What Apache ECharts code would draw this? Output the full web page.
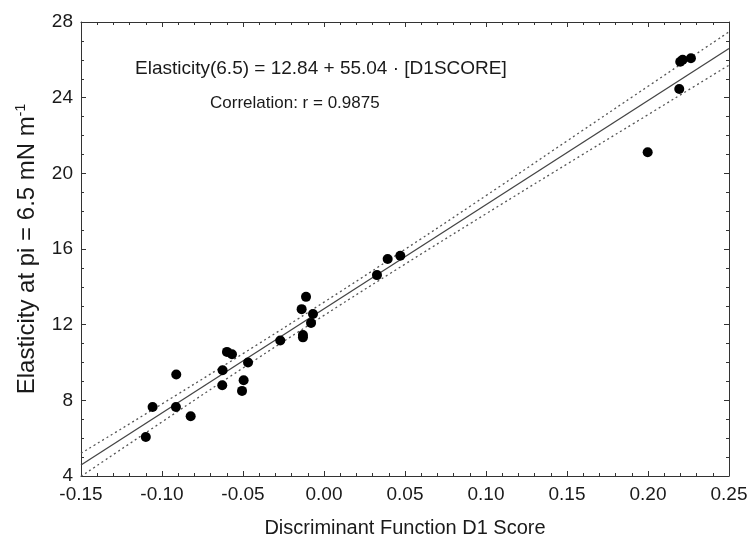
<!DOCTYPE html>
<html>
<head>
<meta charset="utf-8">
<script src="https://cdn.jsdelivr.net/npm/echarts@6/dist/echarts.min.js"></script>
<style>
  html, body { margin: 0; padding: 0; background: #fff; }
  #chart { width: 749px; height: 537px; }
</style>
</head>
<body>
<div id="chart"></div>
<script>
// Discriminant function D1 score of each sample
const d1Score = [
  -0.110, -0.1058, -0.0912, -0.0914, -0.0823, -0.0626, -0.0628, -0.0599, -0.0568,
  -0.0496, -0.0506, -0.0469, -0.0270, -0.0130, -0.0130, -0.0080, -0.0068, -0.0138,
  -0.0111, 0.0327, 0.0393, 0.0471, 0.1998, 0.2193, 0.2199, 0.2214, 0.2265
];
// Measured elasticity at pi = 6.5 mN/m
const elasticity = [
  6.06, 7.65, 9.37, 7.65, 7.16, 9.59, 8.80, 10.56, 10.44,
  9.06, 8.50, 10.00, 11.16, 11.45, 11.33, 12.09, 12.56, 12.82,
  13.47, 14.62, 15.47, 15.64, 21.11, 24.46, 25.90, 26.00, 26.08
];

// Fitted line: Elasticity(6.5) = 12.84 + 55.04 * D1SCORE
const fitIntercept = 12.84;
const fitSlope = 55.04;
const fitRange = [-0.15, 0.25];

// Confidence band of the fit
const bandX = [-0.15, -0.10, -0.05, 0.00, 0.05, 0.10, 0.15, 0.20, 0.25];
const bandUpper = [5.20, 7.81, 10.47, 13.19, 15.98, 18.82, 21.71, 24.60, 27.48];
const bandLower = [3.98, 6.86, 9.71, 12.49, 15.20, 17.86, 20.49, 23.10, 25.72];

// Axis tick values
const xTicks = ['-0.15', '-0.10', '-0.05', '0.00', '0.05', '0.10', '0.15', '0.20', '0.25'];
const yTicks = [4, 8, 12, 16, 20, 24, 28];

const equationText = 'Elasticity(6.5) = 12.84 + 55.04 \u00b7 [D1SCORE]';
const correlationText = 'Correlation: r = 0.9875';

const points = d1Score.map((x, i) => [x, elasticity[i]]);
const fitLine = fitRange.map(x => [x, fitIntercept + fitSlope * x]);
const upperLine = bandX.map((x, i) => [x, bandUpper[i]]);
const lowerLine = bandX.map((x, i) => [x, bandLower[i]]);

const FONT = '"Liberation Sans", Arial, Helvetica, sans-serif';
const frameColor = '#333';
const textColor = '#1a1a1a';

const xCommon = {
  type: 'value',
  min: -0.15, max: 0.25, interval: 0.05,
  splitLine: { show: false },
  axisLine: { show: true, onZero: false, lineStyle: { color: frameColor, width: 1 } },
  axisTick: { show: true, inside: true, length: 5, lineStyle: { color: frameColor } },
  minorTick: { show: true, splitNumber: 5, length: 3, lineStyle: { color: frameColor } }
};
const yCommon = {
  type: 'value',
  min: 4, max: 28, interval: 4,
  splitLine: { show: false },
  axisLine: { show: true, onZero: false, lineStyle: { color: frameColor, width: 1 } },
  axisTick: { show: true, inside: true, length: 5, lineStyle: { color: frameColor } },
  minorTick: { show: true, splitNumber: 4, length: 3, lineStyle: { color: frameColor } }
};

const chart = echarts.init(document.getElementById('chart'), null, { renderer: 'canvas' });
chart.setOption({
  animation: false,
  backgroundColor: '#fff',
  grid: { left: 81, right: 20, top: 22, bottom: 61, containLabel: false, outerBoundsMode: 'none' },
  xAxis: [
    Object.assign({}, xCommon, {
      position: 'bottom',
      name: 'Discriminant Function D1 Score',
      nameLocation: 'middle',
      nameGap: 42,
      nameTextStyle: { fontFamily: FONT, fontSize: 20, color: textColor },
      axisLabel: {
        margin: 9, fontFamily: FONT, fontSize: 19, color: textColor,
        formatter: v => xTicks[Math.round((v - fitRange[0]) / 0.05)]
      }
    }),
    Object.assign({}, xCommon, { position: 'top', axisLabel: { show: false } })
  ],
  yAxis: [
    Object.assign({}, yCommon, {
      position: 'left',
      name: 'Elasticity at pi = 6.5 mN m{sup|-1}',
      nameLocation: 'middle',
      nameGap: 41,
      nameTextStyle: {
        fontFamily: FONT, fontSize: 24, color: textColor,
        rich: { sup: { fontFamily: FONT, fontSize: 14, color: textColor, verticalAlign: 'top', padding: [0, 0, 12, 0] } }
      },
      axisLabel: {
        margin: 8, fontFamily: FONT, fontSize: 19, color: textColor,
        formatter: v => (yTicks.indexOf(v) >= 0 ? String(v) : '')
      }
    }),
    Object.assign({}, yCommon, { position: 'right', axisLabel: { show: false } })
  ],
  graphic: [
    {
      type: 'text', left: 135, top: 59,
      style: { text: equationText, font: '19px ' + FONT, fill: textColor }
    },
    {
      type: 'text', left: 210, top: 95,
      style: { text: correlationText, font: '17px ' + FONT, fill: textColor }
    }
  ],
  series: [
    {
      type: 'line', data: upperLine, smooth: true, symbol: 'none',
      lineStyle: { color: '#555', width: 1.3, type: [2, 3] }, z: 2
    },
    {
      type: 'line', data: lowerLine, smooth: true, symbol: 'none',
      lineStyle: { color: '#555', width: 1.3, type: [2, 3] }, z: 2
    },
    {
      type: 'line', data: fitLine, symbol: 'none',
      lineStyle: { color: '#444', width: 1.3 }, z: 3
    },
    {
      type: 'scatter', data: points, symbol: 'circle', symbolSize: 10,
      itemStyle: { color: '#000', opacity: 1 }, z: 4
    }
  ]
});
</script>
</body>
</html>
